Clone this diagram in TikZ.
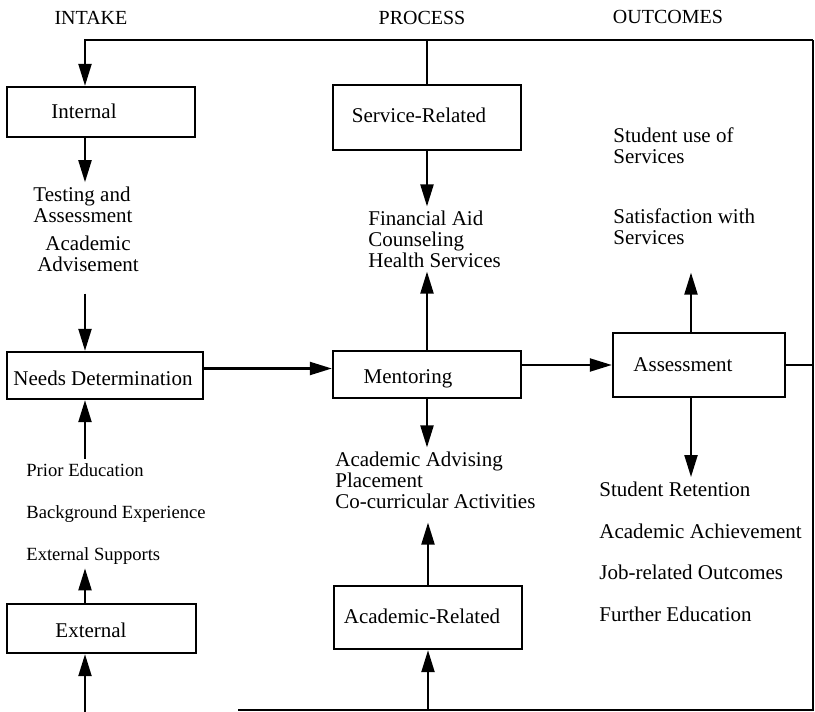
\documentclass[tikz,border=0pt]{standalone}
\usepackage{fontspec}
\setmainfont{Liberation Serif}
\usetikzlibrary{arrows.meta}
\begin{document}
\begin{tikzpicture}[x=0.5pt,y=-0.5pt, % Pixelmaß, y nach unten
  box/.style={draw,line width=1.2pt,inner sep=0pt},
  txt/.style={inner sep=2pt,align=left,font=\fontsize{10.5}{10.4}\selectfont},
  small/.style={inner sep=2pt,font=\fontsize{9.3}{10}\selectfont},
  head/.style={inner sep=2pt,font=\fontsize{10}{12}\selectfont},
  arr/.style={line width=1.1pt,-{Triangle[length=11pt,width=6.5pt]}},
  rail/.style={line width=1.1pt}]
\useasboundingbox (0,0) rectangle (815,712);

% Spaltenköpfe
\node[head,anchor=base] (hIntake) at (91,25) {INTAKE};
\node[head,anchor=base] (hProcess) at (422,25) {PROCESS};
\node[head,anchor=base] (hOutcomes) at (668,24) {OUTCOMES};

% Kästen
\node[box,minimum width=94pt,minimum height=25pt] (internal) at (101,112) {};
\node[box,minimum width=98pt,minimum height=23.5pt] (needs) at (105,375.5) {};
\node[box,minimum width=94.5pt,minimum height=24.5pt] (external) at (101.5,628.5) {};
\node[box,minimum width=94pt,minimum height=32.5pt] (service) at (427,117.5) {};
\node[box,minimum width=94pt,minimum height=23.5pt] (mentor) at (427,374.5) {};
\node[box,minimum width=94pt,minimum height=31.5pt] (academic) at (428,617.5) {};
\node[box,minimum width=86pt,minimum height=32pt] (assess) at (699,365) {};

% Beschriftung der Kästen
\node[txt,anchor=base] (internalT) at (84,119) {Internal};
\node[txt,anchor=base] (needsT) at (103,385) {Needs Determination};
\node[txt,anchor=base] (externalT) at (91,637) {External};
\node[txt,anchor=base] (serviceT) at (419,122) {Service-Related};
\node[txt,anchor=base] (mentorT) at (408,383) {Mentoring};
\node[txt,anchor=base] (academicT) at (422,623) {Academic-Related};
\node[txt,anchor=base] (assessT) at (683,371) {Assessment};

% Texte INTAKE (base = letzte Zeile)
\node[txt,anchor=base west] (testT) at (29,222) {Testing and\\Assessment};
\node[txt,anchor=base,align=center] (advT) at (88,271) {Academic\\Advisement};
\foreach \n/\y/\t in {priorT/476/Prior Education, backT/518/Background Experience, suppT/560/External Supports}
  \node[small,anchor=base west] (\n) at (22,\y) {\t};

% Texte PROCESS
\node[txt,anchor=base west] (finT) at (364,267) {Financial Aid\\Counseling\\Health Services};
\node[txt,anchor=base west] (advisingT) at (331,508) {Academic Advising\\Placement\\Co-curricular Activities};

% Texte OUTCOMES
\node[txt,anchor=base west] (stuT) at (609,163) {Student use of\\Services};
\node[txt,anchor=base west] (satT) at (609,244) {Satisfaction with\\Services};
\foreach \n/\y/\t in {retT/496/Student Retention, achT/538/Academic Achievement, jobT/579/Job-related Outcomes, furT/621/Further Education}
  \node[txt,anchor=base west] (\n) at (595,\y) {\t};

% Rückführung außen
\coordinate (tl) at (85,40);
\coordinate (tr) at (813,40);
\coordinate (br) at (813,710);
\coordinate (bm) at (238,710);
\coordinate (bl) at (85,712);
\draw[rail] (assess.east) -- (assess.east -| tr);
\draw[rail] (tr) -- (br) -- (bm);
\draw[arr] (tr) -- (tl) -- (tl |- internal.north);
\draw[rail] (service.north) -- (service.north |- tl);
\draw[arr] (bl) -- (bl |- external.south);
\draw[arr] (academic.south |- br) -- (academic.south);

% Pfeile INTAKE
\draw[arr] (tl |- internal.south) -- (tl |- testT.north);
\draw[arr,shorten <=9pt] (tl |- advT.south) -- (tl |- needs.north);
\draw[arr] (tl |- priorT.north) -- (tl |- needs.south);
\draw[arr] (tl |- external.north) -- (tl |- suppT.south);
\draw[arr] ([yshift=3.5pt]needs.east) -- ([yshift=3.5pt]needs.east -| mentor.west);

% Pfeile PROCESS
\draw[arr] (service.south) -- (service.south |- finT.north);
\draw[arr] (mentor.north) -- (mentor.north |- finT.south);
\draw[arr] (mentor.south) -- (mentor.south |- advisingT.north);
\draw[arr,shorten >=5pt] (academic.north) -- (academic.north |- advisingT.south);
\draw[arr] (assess.west -| mentor.east) -- (assess.west);

% Pfeile OUTCOMES
\coordinate (ax) at (691,0);
\draw[arr,shorten >=12pt] (ax |- assess.north) -- (ax |- satT.south);
\draw[arr] (ax |- assess.south) -- (ax |- retT.north);

\end{tikzpicture}
\end{document}
